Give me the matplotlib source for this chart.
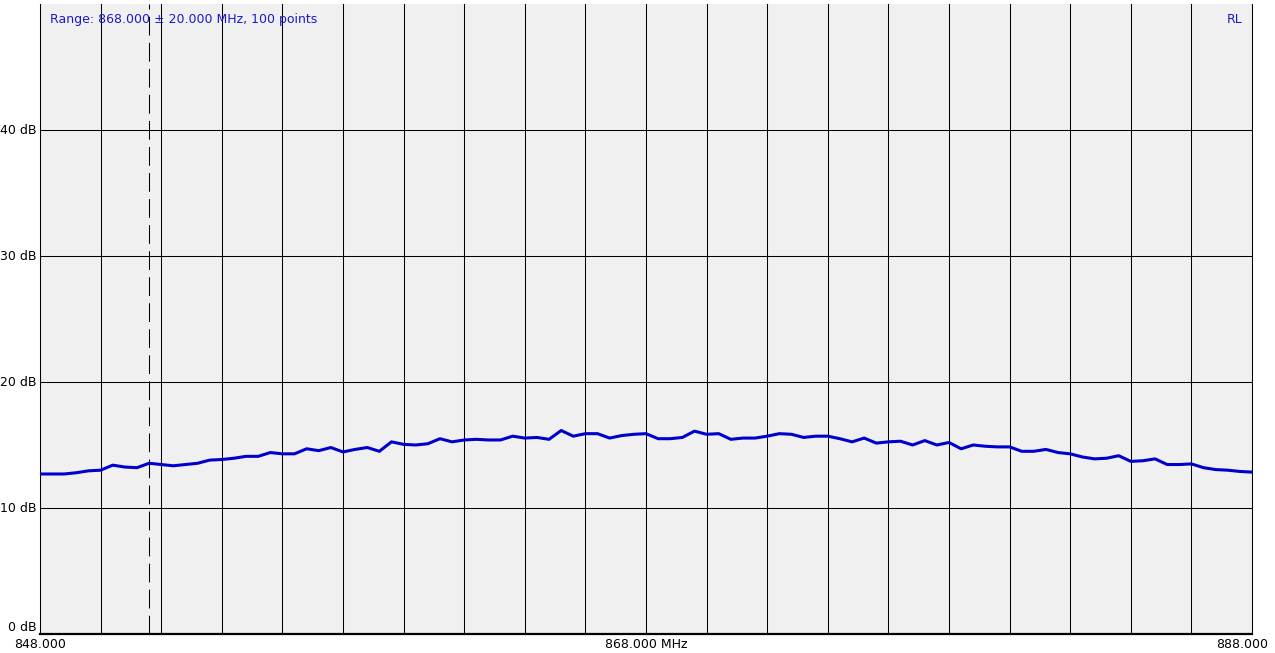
import numpy as np
import matplotlib
matplotlib.use("Agg")
import matplotlib.pyplot as plt

# return loss trace, dB (101 samples 848..888 MHz)
rl_db = [12.7, 12.7, 12.7, 12.8, 12.95, 13.0, 13.4, 13.25, 13.2, 13.55,
         13.45, 13.35, 13.45, 13.55, 13.8, 13.85, 13.95, 14.1, 14.1, 14.4,
         14.3, 14.3, 14.7, 14.55, 14.8, 14.45, 14.65, 14.8, 14.5, 15.25,
         15.05, 15.0, 15.1, 15.5, 15.25, 15.4, 15.45, 15.4, 15.4, 15.7,
         15.55, 15.6, 15.45, 16.15, 15.7, 15.9, 15.9, 15.55, 15.75, 15.85,
         15.9, 15.5, 15.5, 15.6, 16.1, 15.85, 15.9, 15.45, 15.55, 15.55,
         15.7, 15.9, 15.85, 15.6, 15.7, 15.7, 15.5, 15.25, 15.55, 15.15,
         15.25, 15.3, 15.0, 15.35, 15.0, 15.2, 14.7, 15.0, 14.9, 14.85,
         14.85, 14.5, 14.5, 14.65, 14.4, 14.3, 14.05, 13.9, 13.95, 14.15,
         13.7, 13.75, 13.9, 13.45, 13.45, 13.5, 13.2, 13.05, 13.0, 12.9, 12.85]
f_start, f_stop = 848.0, 888.0
marker_mhz = 851.6
y_ticks = [0, 10, 20, 30, 40]
y_labels = ["0 dB", "10 dB", "20 dB", "30 dB", "40 dB"]
x_grid = list(range(848, 889, 2))
x_labels = {848: "848.000", 868: "868.000 MHz", 888: "888.000"}
title_txt = "Range: 868.000 \u00b1 20.000 MHz, 100 points"

freq = np.linspace(f_start, f_stop, len(rl_db))

fig = plt.figure(figsize=(12.75, 6.53), dpi=100)
ax = fig.add_axes([40 / 1275, 1 - 634 / 653, 1212 / 1275, 630 / 653])
ax.set_facecolor("#f0f0f0")

ax.set_xlim(f_start, f_stop)
ax.set_ylim(0, 50)

# grid
for x in x_grid:
    ax.axvline(x, color="black", lw=0.75, zorder=1)
for y in y_ticks[1:]:
    ax.axhline(y, color="black", lw=0.75, zorder=1)

# marker line
ax.axvline(marker_mhz, color="black", lw=0.75, dashes=(18, 7), zorder=2)

ax.plot(freq, rl_db, color="#0000cc", lw=2.2, zorder=3)

for s in ["top"]:
    ax.spines[s].set_visible(False)
ax.spines["left"].set_linewidth(0.75)
ax.spines["right"].set_linewidth(0.75)
ax.spines["bottom"].set_linewidth(1.6)

ax.set_xticks([])
ax.set_yticks([])

kw = dict(fontsize=9, color="black", family="DejaVu Sans")
for y, lab in zip(y_ticks, y_labels):
    va = "bottom" if y == 0 else "center"
    ax.annotate(lab, (f_start, y), xytext=(-3, 0), textcoords="offset pixels",
                ha="right", va=va, **kw)
for x, lab in x_labels.items():
    ha = {848: "center", 868: "center", 888: "right"}[x]
    off = 16 if x == 888 else 0
    ax.annotate(lab, (x, 0), xytext=(off, -4), textcoords="offset pixels",
                ha=ha, va="top", **kw)

ax.text(0.008, 0.985, title_txt, transform=ax.transAxes, ha="left", va="top",
        fontsize=9, color="#1a1acc", family="DejaVu Sans")
ax.text(0.992, 0.985, "RL", transform=ax.transAxes, ha="right", va="top",
        fontsize=9, color="#1a1acc", family="DejaVu Sans")

fig.savefig("out.png", dpi=100)
